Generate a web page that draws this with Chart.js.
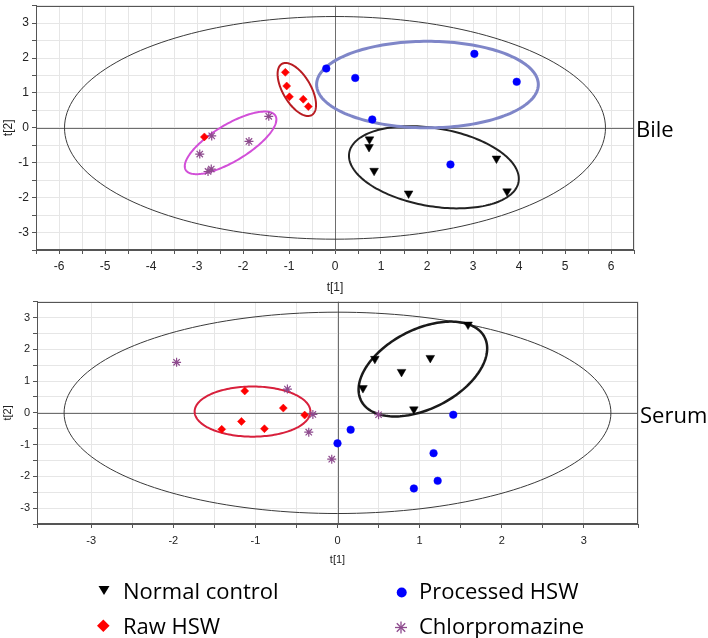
<!DOCTYPE html>
<html lang="en">
<head>
<meta charset="utf-8">
<title>Bile and serum score plots</title>
<script src="https://cdn.jsdelivr.net/npm/chart.js@4.4.1/dist/chart.umd.min.js"></script>
<style>
  html, body { margin: 0; padding: 0; background: #fff; }
  #page { position: relative; width: 708px; height: 638px; overflow: hidden; font-family: "Open Sans", sans-serif; }
  #page canvas { position: absolute; left: 0; }
  .tag, .legend-text { position: absolute; font-size: 22px; line-height: 22px; color: #000; white-space: nowrap; }
  #legendIcons { position: absolute; left: 0; top: 560px; }
</style>
</head>
<body>
<div id="page">
  <canvas id="bileChart" width="708" height="296" style="top:0"></canvas>
  <canvas id="serumChart" width="708" height="272" style="top:296px"></canvas>
  <div class="tag" style="left:636px;top:117px">Bile</div>
  <div class="tag" style="left:640px;top:403px">Serum</div>

  <svg id="legendIcons" width="708" height="78">
    <polygon points="98.5,26 109.5,26 104,35" fill="#000"/>
    <polygon points="103.3,59.5 109.6,65.8 103.3,72.1 97,65.8" fill="#ff0000"/>
    <circle cx="401.7" cy="32.5" r="5" fill="#0000ff"/>
    <g stroke="#8e4b8e" stroke-width="1.3">
      <line x1="401" y1="61.5" x2="401" y2="73.5"/>
      <line x1="395" y1="67.5" x2="407" y2="67.5"/>
      <line x1="396.8" y1="63.3" x2="405.2" y2="71.7"/>
      <line x1="396.8" y1="71.7" x2="405.2" y2="63.3"/>
    </g>
  </svg>
  <div class="legend-text" style="left:123px;top:579px">Normal control</div>
  <div class="legend-text" style="left:419px;top:579px">Processed HSW</div>
  <div class="legend-text" style="left:123px;top:614px">Raw HSW</div>
  <div class="legend-text" style="left:419px;top:614px">Chlorpromazine</div>
</div>

<script>
// groups, in the order of the legend
const groupNames = ['Normal control', 'Processed HSW', 'Raw HSW', 'Chlorpromazine'];

// Bile scores, [t[1], t[2]]
const bileNormal = [[0.75, -0.33], [0.74, -0.55], [0.85, -1.23], [1.60, -1.88], [3.51, -0.88], [3.74, -1.82]];
const bileProcessed = [[-0.19, 1.70], [0.44, 1.43], [3.03, 2.12], [3.95, 1.32], [0.81, 0.24], [2.51, -1.05]];
const bileRaw = [[-1.08, 1.59], [-1.05, 1.20], [-0.99, 0.89], [-0.69, 0.82], [-0.58, 0.61], [-2.84, -0.26]];
const bileChlor = [[-2.68, -0.23], [-1.44, 0.33], [-1.87, -0.39], [-2.94, -0.75], [-2.69, -1.18], [-2.76, -1.25]];

// Serum scores, [t[1], t[2]]
const serumNormal = [[1.59, 2.78], [0.455, 1.70], [1.13, 1.73], [0.78, 1.29], [0.31, 0.78], [0.93, 0.11]];
const serumProcessed = [[1.41, -0.06], [0.16, -0.53], [0.00, -0.96], [1.17, -1.27], [1.22, -2.14], [0.93, -2.38]];
const serumRaw = [[-1.13, 0.69], [-0.66, 0.15], [-0.40, -0.07], [-1.17, -0.27], [-1.41, -0.52], [-0.89, -0.50]];
const serumChlor = [[-1.96, 1.59], [-0.61, 0.75], [-0.30, -0.05], [-0.35, -0.61], [-0.07, -1.46], [0.50, -0.06]];

// axis ranges
const bileXRange = [-6.5, 6.5];
const bileYRange = [-3.5, 3.5];
const serumXRange = [-3.66, 3.66];
const serumYRange = [-3.5, 3.5];

// ellipses: centre x, centre y, then two conjugate semi-axis vectors (ux, uy, vx, vy)
const bileHotelling = [0, 0, 5.88, 0, 0, 3.19];
const bileGroupEllipses = [
    [2.15, -1.13, 1.84, -0.42, -0.15, -1.10],   // normal control
    [2.01, 1.24, 2.41, 0, 0, 1.24],             // processed HSW
    [-0.83, 1.10, 0.324, -0.733, 0.264, 0.200], // raw HSW
    [-2.27, -0.43, 0.974, 0.779, 0.208, -0.445] // chlorpromazine
];
const serumHotelling = [0, 0, 3.33, 0, 0, 3.17];
const serumGroupEllipses = [
    [1.04, 1.38, 0.748, 1.018, 0.232, -1.093],  // normal control
    null,
    [-1.035, 0.04, 0.705, 0, 0, 0.79],          // raw HSW
    null
];

// styles
const bileEllipseStyle = [['#222', 2], ['#7f86c8', 3], ['#b81c22', 2], ['#d24fd8', 2]];
const serumEllipseStyle = [['#1a1a1a', 2.5], null, ['#d8203c', 2], null];
const markerStyle = [
    { pointStyle: 'triangle', rotation: 180, radius: 5, color: '#000' },
    { pointStyle: 'circle', rotation: 0, radius: 3.8, color: '#0000ff' },
    { pointStyle: 'rectRot', rotation: 0, radius: 4, color: '#ff0000' },
    { pointStyle: 'star', rotation: 0, radius: 4.5, color: '#8e4b8e' }
];

function intLabel(v) {
    return Math.abs(v - Math.round(v)) < 1e-6 ? String(Math.round(v)) : '';
}

// draws the zero axes, the ellipses and the box around the plot area
function overlayPlugin(hotelling, ellipses, styles) {
    function drawEllipse(chart, e, color, width) {
        const { ctx, scales: { x, y } } = chart;
        ctx.strokeStyle = color;
        ctx.lineWidth = width;
        ctx.beginPath();
        for (let i = 0; i <= 180; i++) {
            const t = i / 180 * Math.PI * 2;
            const px = x.getPixelForValue(e[0] + e[2] * Math.cos(t) + e[4] * Math.sin(t));
            const py = y.getPixelForValue(e[1] + e[3] * Math.cos(t) + e[5] * Math.sin(t));
            if (i === 0) ctx.moveTo(px, py); else ctx.lineTo(px, py);
        }
        ctx.closePath();
        ctx.stroke();
    }
    return {
        id: 'overlay',
        beforeDatasetsDraw(chart) {
            const { ctx, chartArea: a, scales: { x, y } } = chart;
            ctx.save();
            ctx.strokeStyle = '#6e6e6e';
            ctx.lineWidth = 1;
            const x0 = Math.round(x.getPixelForValue(0)) + 0.5;
            const y0 = Math.round(y.getPixelForValue(0)) + 0.5;
            ctx.beginPath();
            ctx.moveTo(x0, a.top); ctx.lineTo(x0, a.bottom);
            ctx.moveTo(a.left, y0); ctx.lineTo(a.right, y0);
            ctx.stroke();

            drawEllipse(chart, hotelling, '#3a3a3a', 1);
            ellipses.forEach((e, i) => {
                if (e) drawEllipse(chart, e, styles[i][0], styles[i][1]);
            });
            ctx.restore();
        },
        afterDraw(chart) {
            const { ctx, chartArea: a } = chart;
            ctx.save();
            ctx.strokeStyle = '#555';
            ctx.lineWidth = 1;
            ctx.strokeRect(Math.round(a.left) + 0.5, Math.round(a.top) + 0.5,
                Math.round(a.width) - 1, Math.round(a.height) - 1);
            ctx.restore();
        }
    };
}

function scorePlot(id, groups, xRange, yRange, hotelling, ellipses, styles, box) {
    const datasets = groups.map((pts, i) => {
        const m = markerStyle[i];
        return {
            label: groupNames[i],
            data: pts.map(p => ({ x: p[0], y: p[1] })),
            pointStyle: m.pointStyle,
            rotation: m.rotation,
            pointRadius: m.radius,
            pointBackgroundColor: m.color,
            pointBorderColor: m.color,
            pointBorderWidth: m.pointStyle === 'star' ? 1.2 : 0.5
        };
    });

    const axisFont = { family: 'Arial, "Liberation Sans", sans-serif', size: box.fontSize };

    return new Chart(document.getElementById(id), {
        type: 'scatter',
        data: { datasets: datasets },
        options: {
            responsive: false,
            animation: false,
            layout: { padding: box.padding },
            plugins: { legend: { display: false }, tooltip: { enabled: false } },
            scales: {
                x: {
                    type: 'linear',
                    min: xRange[0],
                    max: xRange[1],
                    afterFit: s => { s.height = box.xHeight; s.paddingLeft = 0; s.paddingRight = 0; },
                    ticks: { stepSize: 0.5, autoSkip: false, maxRotation: 0, padding: box.tickPad,
                             color: '#222', font: axisFont, callback: intLabel },
                    grid: { color: '#e6e6e6', tickColor: '#555', tickLength: 4 },
                    border: { color: '#555' },
                    title: { display: true, text: 't[1]', color: '#222', font: axisFont,
                             padding: { top: 0, bottom: 1 } }
                },
                y: {
                    type: 'linear',
                    min: yRange[0],
                    max: yRange[1],
                    afterFit: s => { s.width = box.yWidth; s.paddingTop = 0; s.paddingBottom = 0; },
                    ticks: { stepSize: 0.5, autoSkip: false, padding: 3,
                             color: '#222', font: axisFont, callback: intLabel },
                    grid: { color: '#e6e6e6', tickColor: '#555', tickLength: 4 },
                    border: { color: '#555' },
                    title: { display: true, text: 't[2]', color: '#222', font: axisFont,
                             padding: { top: 1, bottom: 0 } }
                }
            }
        },
        plugins: [overlayPlugin(hotelling, ellipses, styles)]
    });
}

document.addEventListener('DOMContentLoaded', () => {
    scorePlot('bileChart', [bileNormal, bileProcessed, bileRaw, bileChlor],
        bileXRange, bileYRange, bileHotelling, bileGroupEllipses, bileEllipseStyle,
        { padding: { left: 0, right: 74, top: 3, bottom: 0 }, xHeight: 46, yWidth: 36, fontSize: 12, tickPad: 5 });

    scorePlot('serumChart', [serumNormal, serumProcessed, serumRaw, serumChlor],
        serumXRange, serumYRange, serumHotelling, serumGroupEllipses, serumEllipseStyle,
        { padding: { left: 0, right: 70, top: 2, bottom: 0 }, xHeight: 44, yWidth: 37, fontSize: 11, tickPad: 6 });
});
</script>
</body>
</html>
